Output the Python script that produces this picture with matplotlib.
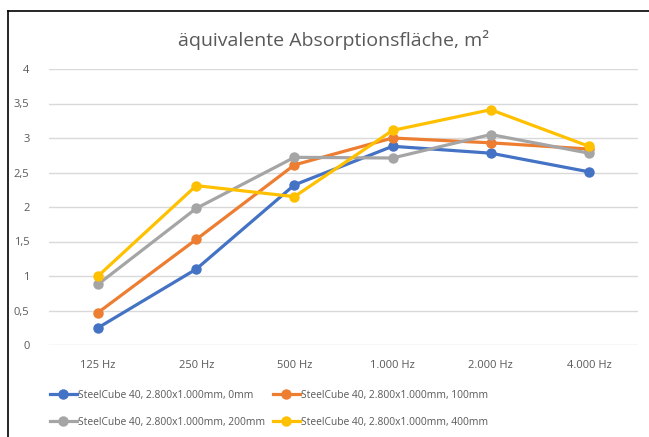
import matplotlib.pyplot as plt
from matplotlib.lines import Line2D

# frequency bands and measured equivalent absorption area (m²)
bands = ['125 Hz', '250 Hz', '500 Hz', '1.000 Hz', '2.000 Hz', '4.000 Hz']
gap_0mm = [0.25, 1.10, 2.32, 2.88, 2.78, 2.51]
gap_100mm = [0.47, 1.53, 2.61, 3.00, 2.93, 2.84]
gap_200mm = [0.88, 1.98, 2.72, 2.71, 3.05, 2.78]
gap_400mm = [1.00, 2.31, 2.15, 3.11, 3.41, 2.88]

names = ['SteelCube 40, 2.800x1.000mm, 0mm',
         'SteelCube 40, 2.800x1.000mm, 100mm',
         'SteelCube 40, 2.800x1.000mm, 200mm',
         'SteelCube 40, 2.800x1.000mm, 400mm']
colors = ['#4472C4', '#ED7D31', '#A5A5A5', '#FFC000']

plt.rcParams['font.family'] = ['Open Sans', 'DejaVu Sans']

fig = plt.figure(figsize=(6.49, 4.37), dpi=100)
ax = fig.add_axes([49/649, 1-345/437, 589/649, 276/437])

x = range(len(bands))
lines = []
for ys, name, c in zip([gap_0mm, gap_100mm, gap_200mm, gap_400mm], names, colors):
    ln, = ax.plot(x, ys, color=c, lw=2.3, marker='o', ms=6.5, label=name, zorder=3)
    lines.append(ln)

ax.set_xlim(-0.5, len(bands) - 0.5)
ax.set_ylim(0, 4)
ax.set_yticks([0, 0.5, 1, 1.5, 2, 2.5, 3, 3.5, 4])
ax.set_yticklabels(['0', '0,5', '1', '1,5', '2', '2,5', '3', '3,5', '4'])
ax.set_xticks(list(x))
ax.set_xticklabels(bands)
ax.tick_params(length=0, labelsize=8, labelcolor='#595959')
ax.tick_params(axis='y', pad=14)
ax.tick_params(axis='x', pad=11)
ax.grid(axis='y', color='#D9D9D9', lw=1)
ax.set_axisbelow(True)
for s in ax.spines.values():
    s.set_visible(False)

fig.text(334/649, 1-40/437, 'äquivalente Absorptionsfläche, m²', ha='center', va='center',
         fontsize=14, color='#595959')

# legend filled row by row like the original
order = [0, 2, 1, 3]
fig.legend([lines[i] for i in order], [names[i] for i in order],
           loc='center', bbox_to_anchor=(269/649, 1-409/437), ncol=2, frameon=False,
           fontsize=7.4, labelcolor='#595959', handlelength=2.6, handletextpad=0.1,
           columnspacing=0.8, labelspacing=1.55)

# chart frame (only top and left edges visible in the crop)
fig.add_artist(Line2D([8/649, 8/649], [0, 1-11/437], color='black', lw=1.2))
fig.add_artist(Line2D([8/649, 1], [1-11/437, 1-11/437], color='black', lw=1.2))

fig.savefig('out.png', dpi=100)
